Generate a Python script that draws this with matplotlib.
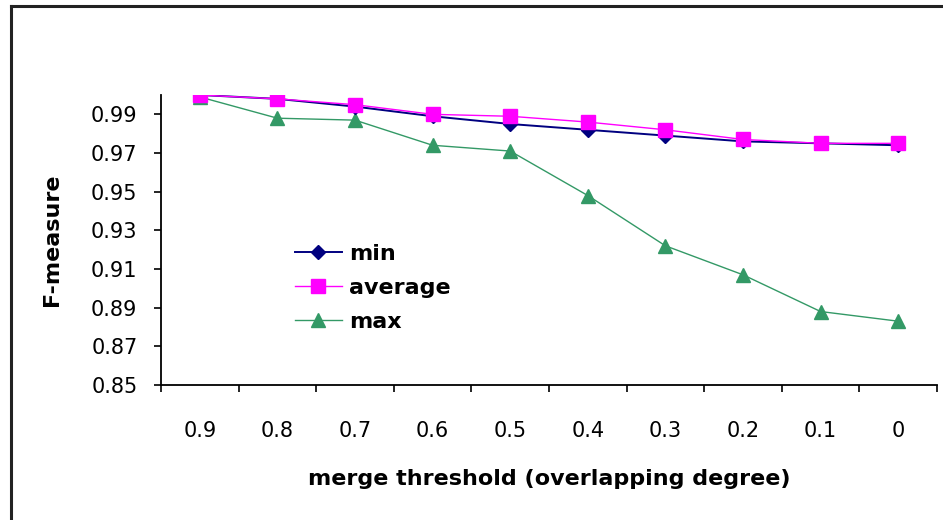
import matplotlib
matplotlib.use("Agg")
import matplotlib.pyplot as plt
from matplotlib.lines import Line2D

plt.rcParams['font.family'] = ['DejaVu Sans']

thresholds = ["0.9", "0.8", "0.7", "0.6", "0.5", "0.4", "0.3", "0.2", "0.1", "0"]
f_min = [1.000, 0.998, 0.994, 0.989, 0.985, 0.982, 0.979, 0.976, 0.975, 0.974]
f_avg = [1.000, 0.998, 0.995, 0.990, 0.989, 0.986, 0.982, 0.977, 0.975, 0.975]
f_max = [0.999, 0.988, 0.987, 0.974, 0.971, 0.948, 0.922, 0.907, 0.888, 0.883]
y_ticks = [0.85, 0.87, 0.89, 0.91, 0.93, 0.95, 0.97, 0.99]

W, H = 943, 520
fig = plt.figure(figsize=(W / 100, H / 100), dpi=100)
fig.patch.set_facecolor('white')

# chart-area frame (left and top edges)
fig.add_artist(Line2D([11 / W, 11 / W], [0, 1 - 6 / H], color='#222222', lw=2.2))
fig.add_artist(Line2D([11 / W, 1], [1 - 6 / H, 1 - 6 / H], color='#222222', lw=2.2))

ax = fig.add_axes([161 / W, 1 - 385 / H, (937 - 161) / W, (385 - 95) / H])
x = list(range(len(thresholds)))

ax.plot(x, f_min, color='#000080', lw=1.4, marker='D', ms=7, label='min', zorder=3)
ax.plot(x, f_avg, color='#FF00FF', lw=1.0, marker='s', ms=9.5, label='average', zorder=4)
ax.plot(x, f_max, color='#339966', lw=1.0, marker='^', ms=10, label='max', zorder=2)

ax.set_xlim(-0.5, len(thresholds) - 0.5)
ax.set_ylim(0.85, 1.0)
ax.set_yticks(y_ticks)
ax.set_yticklabels([f"{v:.2f}" for v in y_ticks])
ax.set_xticks(x)
ax.set_xticklabels(thresholds)
ax.set_xticks([i + 0.5 for i in range(-1, len(thresholds))], minor=True)
ax.tick_params(axis='x', which='major', length=0, pad=26, labelsize=15)
ax.tick_params(axis='x', which='minor', length=5, width=1.2, direction='out')
ax.tick_params(axis='y', length=5, width=1.2, direction='out', pad=12, labelsize=15)

for s in ['top', 'right']:
    ax.spines[s].set_visible(False)
for s in ['left', 'bottom']:
    ax.spines[s].set_linewidth(1.3)

ax.set_xlabel('merge threshold (overlapping degree)', fontsize=16, fontweight='bold')
ax.set_ylabel('F-measure', fontsize=16, fontweight='bold')
ax.xaxis.set_label_coords(0.5, (385 - 469) / 290)
ax.yaxis.set_label_coords((62 - 161) / 776, 0.5)

leg = ax.legend(loc='upper left', bbox_to_anchor=((295 - 161) / 776, (385 - 244) / 290),
                frameon=False, prop={'size': 16, 'weight': 'bold'}, borderaxespad=0,
                handlelength=2.1, handletextpad=0.35, labelspacing=0.63, borderpad=0)

fig.savefig('out.png', dpi=100, facecolor='white')
